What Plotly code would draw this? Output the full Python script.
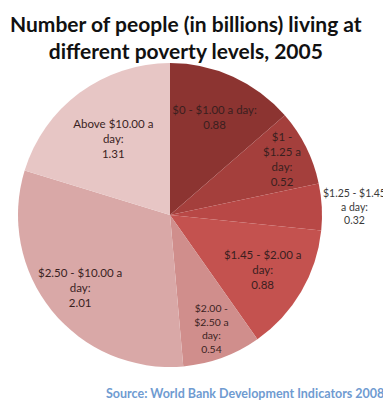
import math
import plotly.graph_objects as go

labels = ["$0 - $1.00 a day", "$1 - $1.25 a day", "$1.25 - $1.45 a day",
          "$1.45 - $2.00 a day", "$2.00 - $2.50 a day", "$2.50 - $10.00 a day",
          "Above $10.00 a day"]
values = [0.88, 0.52, 0.32, 0.88, 0.54, 2.01, 1.31]
label_text = ["$0 - $1.00 a day:", "$1 -<br>$1.25 a<br>day:", "$1.25 - $1.45<br>a day:",
              "$1.45 - $2.00 a<br>day:", "$2.00 -<br>$2.50 a<br>day:",
              "$2.50 - $10.00 a<br>day:", "Above $10.00 a<br>day:"]
colors = ["#8C3431", "#A43F3C", "#B84846", "#C4524F", "#D08E8C", "#D9A8A7", "#E7C6C5"]
# some labels are placed as annotations (radius fraction, anchor, size)
positions = ["inside", "none", "none", "inside", "inside", "none", "inside"]
custom_label = {1: (0.82, "center", 11.5), 2: (0.995, "left", 10.5), 5: (0.76, "center", 11.5)}

# page body has an 8px default margin, so the figure is sized to the remaining area
W, H = 383, 397
cx, cy, r = 162, 207, 152
FONT = "Lato, Open Sans, sans-serif"

fig = go.Figure(go.Pie(
    labels=labels,
    values=values,
    text=label_text,
    texttemplate="%{text}<br>%{value:.2f}",
    textposition=positions,
    insidetextorientation="horizontal",
    sort=False,
    direction="clockwise",
    rotation=0,
    marker=dict(colors=colors, line=dict(width=0)),
    textfont=dict(family=FONT, size=11.5, color="#3a1f1f"),
    showlegend=False,
    hoverinfo="label+value",
    automargin=False,
    domain=dict(x=[(cx - r) / W, (cx + r) / W], y=[(H - cy - r) / H, (H - cy + r) / H]),
))

annotations = [
    dict(
        text="<b>Number of people (in billions) living at<br>different poverty levels, 2005</b>",
        x=178 / W, xanchor="center", y=1 - 1 / H, yanchor="top",
        xref="paper", yref="paper", showarrow=False, align="center",
        font=dict(family=FONT, size=21, color="#111111"),
    ),
    dict(
        text="<b>Source: World Bank Development Indicators 2008</b>",
        x=378 / W, xanchor="right", y=12 / H, yanchor="middle",
        xref="paper", yref="paper", showarrow=False,
        font=dict(family=FONT, size=12.5, color="#6F9BD1"),
    ),
]

total = sum(values)
cum = 0.0
for i, v in enumerate(values):
    mid = (cum + v / 2) / total
    cum += v
    if i not in custom_label:
        continue
    frac, anchor, size = custom_label[i]
    theta = 2 * math.pi * mid
    px = cx + frac * r * math.sin(theta)
    py = cy - frac * r * math.cos(theta)
    color = "#3a1f1f" if frac < 0.95 else "#3a3a3a"
    annotations.append(dict(
        text=f"{label_text[i]}<br>{v:.2f}",
        x=px / W, y=1 - py / H, xref="paper", yref="paper",
        xanchor=anchor, yanchor="middle", align="center", showarrow=False,
        font=dict(family=FONT, size=size, color=color),
    ))

fig.update_layout(
    width=W, height=H,
    margin=dict(l=0, r=0, t=0, b=0),
    paper_bgcolor="white",
    plot_bgcolor="white",
    annotations=annotations,
)

fig.write_html("out.html")
